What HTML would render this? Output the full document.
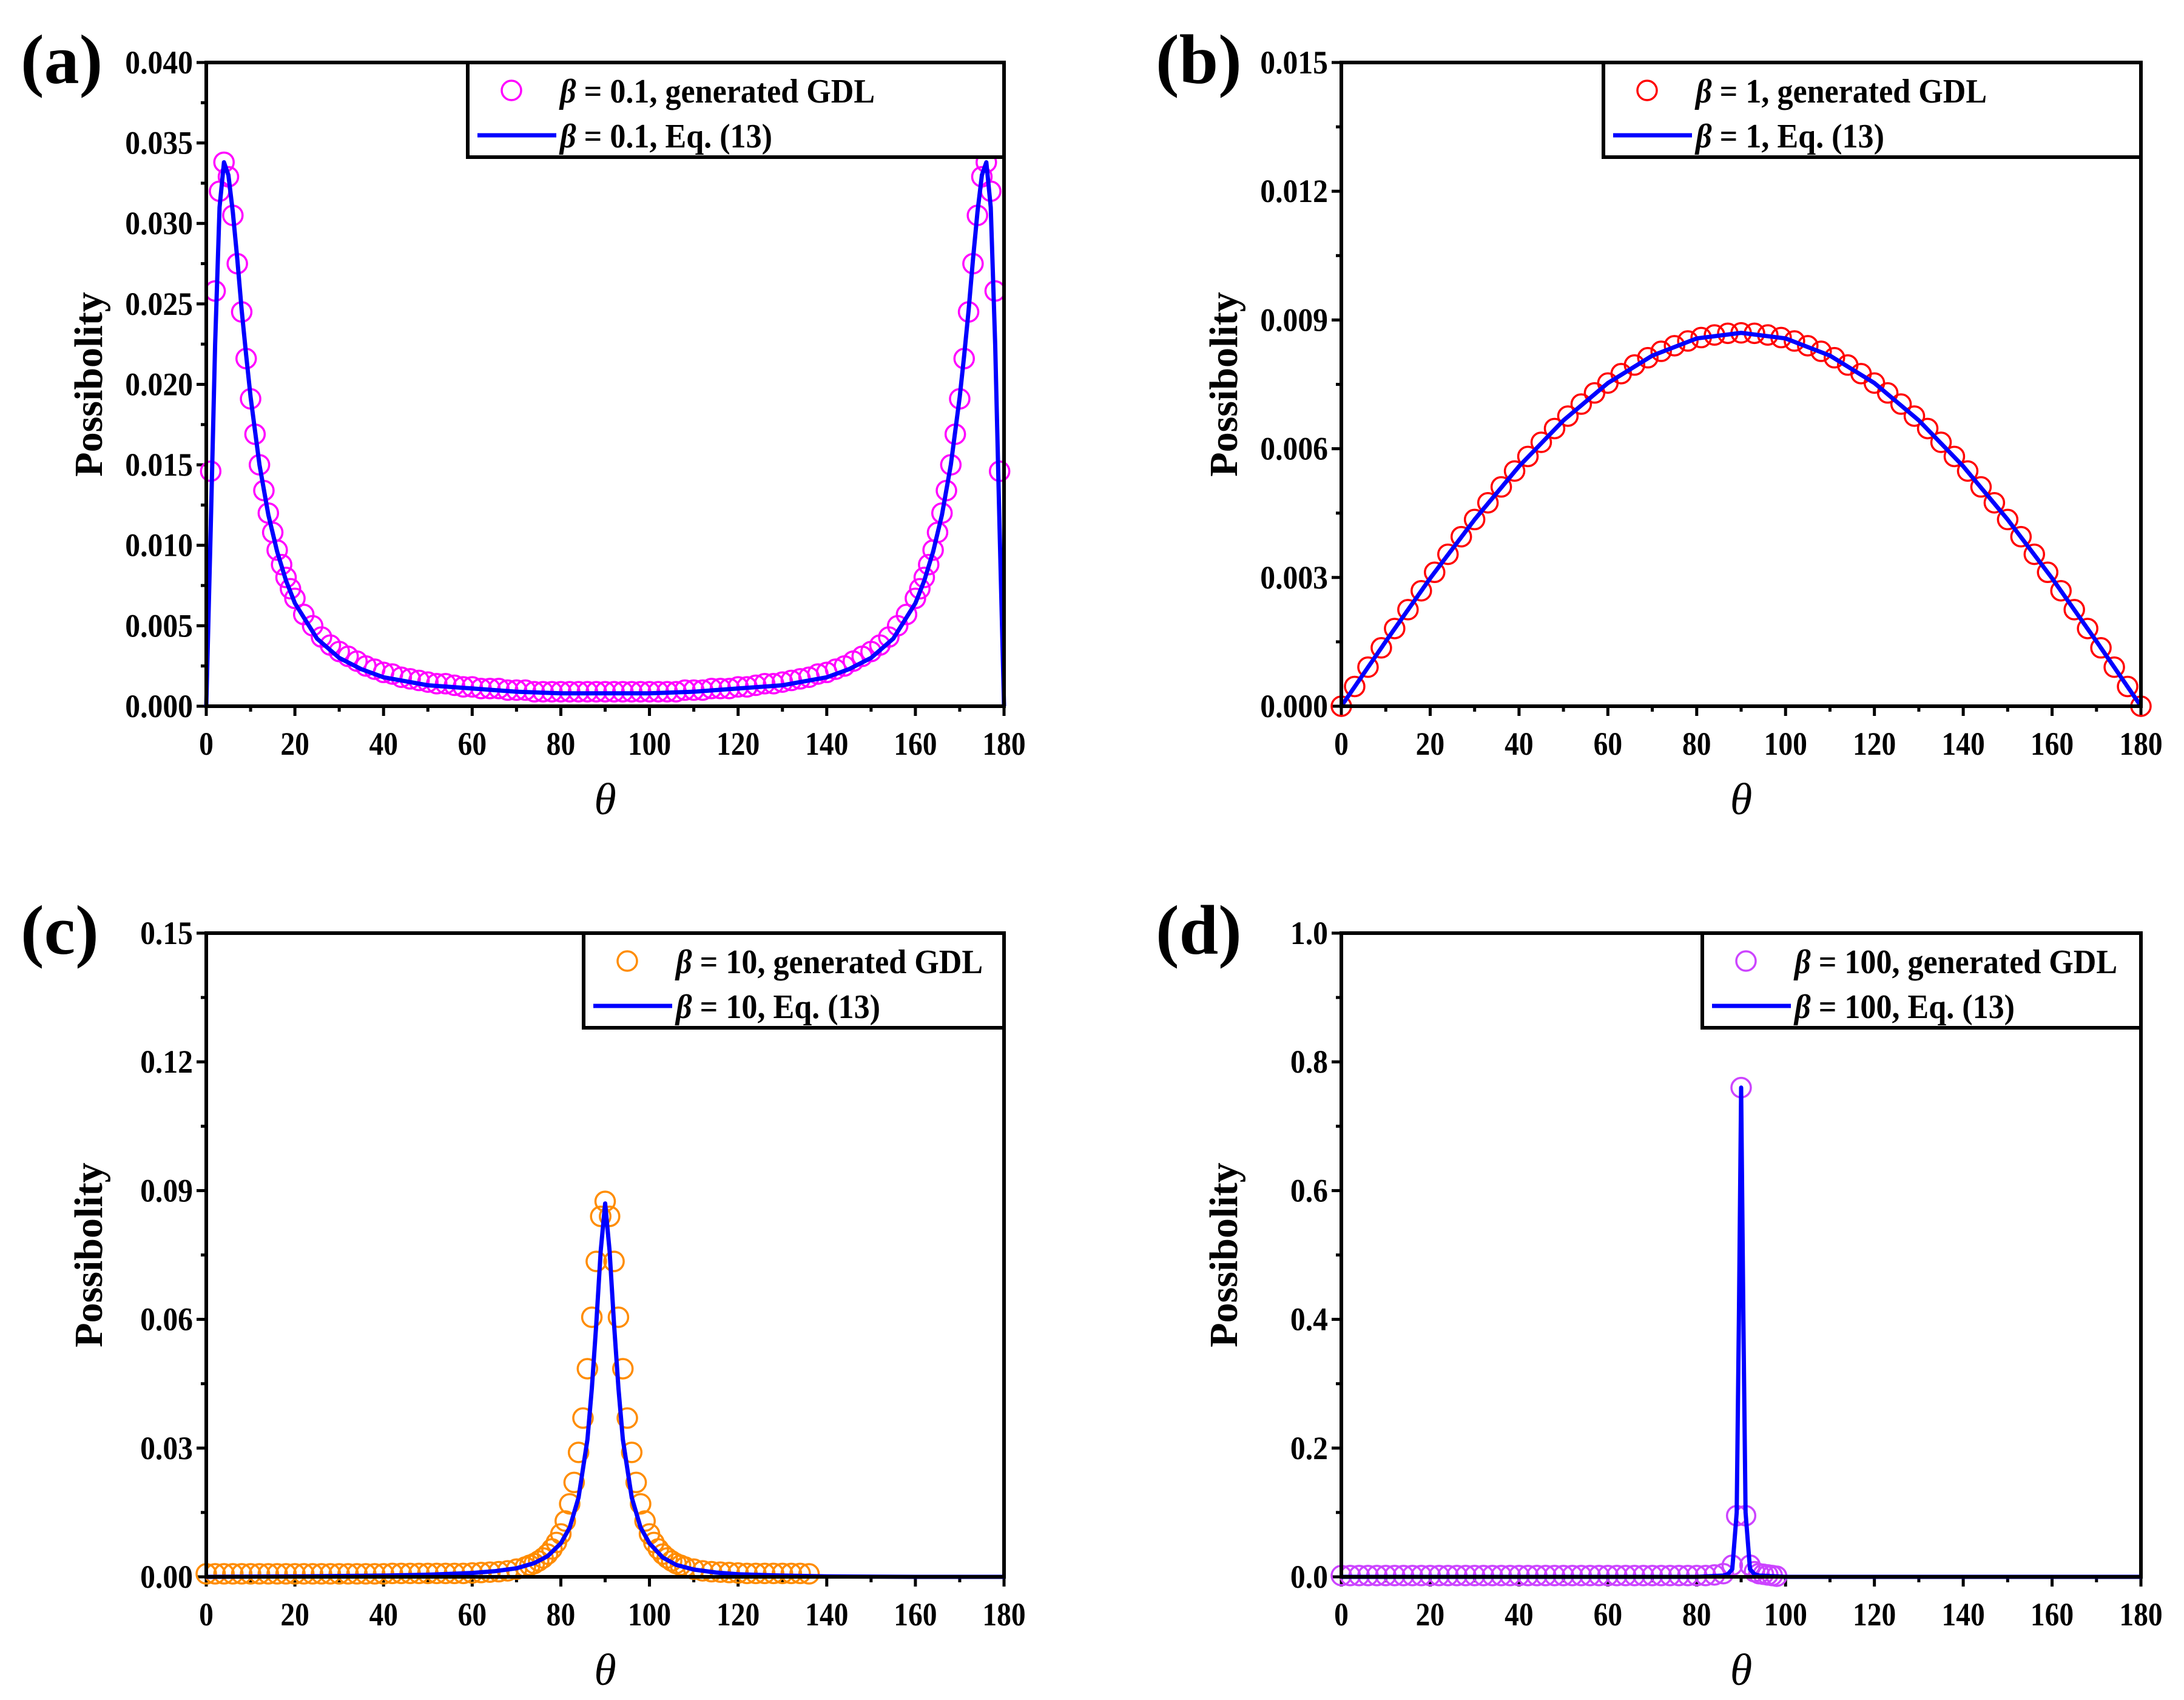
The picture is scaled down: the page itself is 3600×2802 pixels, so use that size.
<!DOCTYPE html>
<html><head><meta charset="utf-8"><style>
html,body{margin:0;padding:0;background:#fff;}
svg{display:block;font-family:"Liberation Serif",serif;font-weight:bold;}
</style></head><body>
<svg id="fig" width="3600" height="2802" viewBox="0 0 3600 2802" xmlns="http://www.w3.org/2000/svg"></svg>
<script>
// ---------- data ----------
const xTicks = [0,20,40,60,80,100,120,140,160,180];
const yTicksA = [0,0.005,0.010,0.015,0.020,0.025,0.030,0.035,0.040];
const yTicksB = [0,0.003,0.006,0.009,0.012,0.015];
const yTicksC = [0,0.03,0.06,0.09,0.12,0.15];
const yTicksD = [0,0.2,0.4,0.6,0.8,1.0];

const thetaA = [1,2,3,4,5,6,7,8,9,10,11,12,13,14,15,16,17,18,19,20,
 22,24,26,28,30,32,34,36,38,40,42,44,46,48,50,52,54,56,58,60,62,64,66,68,70,72,74,76,78,80,82,84,86,88,90,
 92,94,96,98,100,102,104,106,108,110,112,114,116,118,120,122,124,126,128,130,132,134,136,138,140,142,144,146,148,150,152,154,156,158,
 160,161,162,163,164,165,166,167,168,169,170,171,172,173,174,175,176,177,178,179];
const valuesA = [.0146,.0258,.0320,.0338,.0329,.0305,.0275,.0245,.0216,.0191,.0169,.0150,.0134,.0120,.0108,.0097,.0088,.0080,.0073,.0067,
 .0057,.0050,.0043,.0038,.0034,.0031,.0028,.0025,.0023,.0021,.0020,.0018,.0017,.0016,.0015,.0014,.0014,.0013,.0012,.0012,.0011,.0011,.0011,.0010,.0010,.0010,.0009,.0009,.0009,.0009,.0009,.0009,.0009,.0009,.0009,
 .0009,.0009,.0009,.0009,.0009,.0009,.0009,.0009,.0010,.0010,.0010,.0011,.0011,.0011,.0012,.0012,.0013,.0014,.0014,.0015,.0016,.0017,.0018,.0020,.0021,.0023,.0025,.0028,.0031,.0034,.0038,.0043,.0050,.0057,
 .0067,.0073,.0080,.0088,.0097,.0108,.0120,.0134,.0150,.0169,.0191,.0216,.0245,.0275,.0305,.0329,.0338,.0320,.0258,.0146];
const lineThetaA = [0,1,2,3,4,5,6,7,8,9,10,12,14,16,18,20,25,30,35,40,50,60,70,80,90,100,110,120,130,140,145,150,155,160,162,164,166,168,170,171,172,173,174,175,176,177,178,179,180];
const lineValuesA = [0,.0110,.0225,.0310,.0338,.0330,.0307,.0278,.0246,.0218,.0192,.0150,.0119,.0096,.0078,.0064,.0042,.0030,.0023,.0018,.0013,.0011,.0009,.0008,.0008,.0008,.0009,.0011,.0013,.0018,.0023,.0030,.0042,.0064,.0078,.0096,.0119,.0150,.0192,.0218,.0246,.0278,.0307,.0330,.0338,.0310,.0225,.0110,0];

const thetaB = [0,3,6,9,12,15,18,21,24,27,30,33,36,39,42,45,48,51,54,57,60,63,66,69,72,75,78,81,84,87,90,93,96,99,102,105,108,111,114,117,120,123,126,129,132,135,138,141,144,147,150,153,156,159,162,165,168,171,174,177,180];
const valuesB = [0,.00046,.00091,.00136,.00181,.00225,.00269,.00312,.00354,.00395,.00435,.00474,.00511,.00548,.00582,.00615,.00647,.00676,.00704,.00730,.00753,.00775,.00795,.00812,.00827,.00840,.00851,.00859,.00865,.00869,.00870,
 .00869,.00865,.00859,.00851,.00840,.00827,.00812,.00795,.00775,.00753,.00730,.00704,.00676,.00647,.00615,.00582,.00548,.00511,.00474,.00435,.00395,.00354,.00312,.00269,.00225,.00181,.00136,.00091,.00046,0];
const lineThetaB = [0,10,20,30,40,50,60,70,80,90,100,110,120,130,140,150,160,170,180];
const lineValuesB = [0,.00151,.00298,.00435,.00559,.00666,.00753,.00817,.00857,.00870,.00857,.00817,.00753,.00666,.00559,.00435,.00298,.00151,0];

const thetaC = [0,2,4,6,8,10,12,14,16,18,20,22,24,26,28,30,32,34,36,38,40,42,44,46,48,50,52,54,56,58,60,62,64,66,68,70,72,73,74,75,76,77,78,79,80,81,82,83,84,85,86,87,88,89,90,91,92,93,94,95,96,97,98,99,100,101,102,103,104,105,106,107,108,110,112,114,116,118,120,122,124,126,128,130,132,134,136];
const valuesC = [.0007,.0007,.0007,.0007,.0007,.0007,.0007,.0007,.0007,.0007,.0007,.0007,.0007,.0007,.0007,.0007,.0007,.0007,.0007,.0007,.0007,.0008,.0008,.0008,.0008,.0008,.0008,.0008,.0008,.0008,.0009,.0010,.0011,.0012,.0014,.0018,.0023,.0027,.0031,.0037,.0044,.0053,.0065,.0080,.0100,.0130,.0170,.0220,.0290,.0370,.0485,.0605,.0735,.0840,.0875,
 .0840,.0735,.0605,.0485,.0370,.0290,.0220,.0170,.0130,.0100,.0080,.0065,.0053,.0044,.0037,.0031,.0027,.0023,.0018,.0014,.0012,.0011,.0010,.0009,.0008,.0008,.0008,.0008,.0008,.0008,.0008,.0007];
const lineThetaC = [0,20,40,50,60,65,70,74,77,80,82,84,86,87,88,89,90,91,92,93,94,96,98,100,103,106,110,115,120,130,140,160,180];
const lineValuesC = [0,.0001,.0003,.0005,.0009,.0013,.0020,.0032,.0048,.0078,.0115,.0185,.0320,.0440,.0590,.0760,.0870,.0760,.0590,.0440,.0320,.0185,.0115,.0078,.0045,.0028,.0017,.0010,.0006,.0003,.0001,0,0];

const thetaD = [0,2,4,6,8,10,12,14,16,18,20,22,24,26,28,30,32,34,36,38,40,42,44,46,48,50,52,54,56,58,60,62,64,66,68,70,72,74,76,78,80,82,84,86,88,89,90,91,92,93,94,95,96,97,98];
const valuesD = [.002,.002,.002,.002,.002,.002,.002,.002,.002,.002,.002,.002,.002,.002,.002,.002,.002,.002,.002,.002,.002,.002,.002,.002,.002,.002,.002,.002,.002,.002,.002,.002,.002,.002,.002,.002,.002,.002,.002,.002,.002,.002,.003,.005,.018,.095,.760,.095,.018,.008,.005,.004,.003,.002,.001];
const lineThetaD = [0,40,80,86,87,88,89,89.5,90,90.5,91,92,93,94,100,140,180];
const lineValuesD = [0,0,0,.002,.004,.012,.10,.40,.76,.40,.10,.012,.004,.002,0,0,0];

// ---------- drawing ----------
const NS = "http://www.w3.org/2000/svg";
const svg = document.getElementById('fig');
function mk(tag, attrs, parent){ const e=document.createElementNS(NS,tag); for(const k in attrs) e.setAttribute(k,attrs[k]); (parent||svg).appendChild(e); return e; }

function panel(cfg){
  const g = mk('g',{});
  
  
  const L=cfg.x0, R=cfg.x1, T=cfg.y0, B=cfg.y1;
  const ymax = cfg.yTicks[cfg.yTicks.length-1];
  const sx = v => L + (v/180)*(R-L);
  const sy = v => B - (v/ymax)*(B-T);
  const tg = mk('g',{stroke:'#000','stroke-width':5},g);
  
  
  for(let i=0;i<xTicks.length;i++){
    const x=sx(xTicks[i]);
    mk('line',{x1:x,x2:x,y1:B,y2:B+16},tg);
    if(i<xTicks.length-1){ const xm=sx((xTicks[i]+xTicks[i+1])/2); mk('line',{x1:xm,x2:xm,y1:B,y2:B+9},tg); }
    const t=mk('text',{x:x,y:B+80,'text-anchor':'middle','font-size':54,transform:'translate('+x+','+(B+80)+') scale(0.88,1) translate('+(-x)+','+(-(B+80))+')'},g);
    
    
    t.textContent=xTicks[i];
  }
  for(let i=0;i<cfg.yTicks.length;i++){
    const y=sy(cfg.yTicks[i]);
    mk('line',{x1:L-16,x2:L,y1:y,y2:y},tg);
    if(i<cfg.yTicks.length-1){ const ym=sy((cfg.yTicks[i]+cfg.yTicks[i+1])/2); mk('line',{x1:L-9,x2:L,y1:ym,y2:ym},tg); }
    const t=mk('text',{x:L-22,y:y+18,'text-anchor':'end','font-size':54,transform:'translate('+(L-22)+',0) scale(0.92,1) translate('+(-(L-22))+',0)'},g);
    
    
    t.textContent=cfg.yTicks[i].toFixed(cfg.dec);
  }
  const mg = mk('g',{fill:'none',stroke:cfg.color,'stroke-width':3.5},g);
  
  
  for(let i=0;i<cfg.mx.length;i++){
    const c=mk('circle',{cx:sx(cfg.mx[i]),cy:sy(cfg.my[i]),r:16},mg);
    
    
  }
  let d='';
  for(let i=0;i<cfg.lx.length;i++) d+=(i?'L':'M')+sx(cfg.lx[i]).toFixed(1)+','+sy(cfg.ly[i]).toFixed(1);
  const p=mk('path',{d:d,fill:'none',stroke:'#0000ff','stroke-width':7,'stroke-linejoin':'round'},g);
  
  
  const fr=mk('rect',{x:L,y:T,width:R-L,height:B-T,fill:'none',stroke:'#000','stroke-width':6},g);
  
  
  const lg=mk('g',{},g);
  
  
  mk('rect',{x:cfg.lgx,y:T,width:R-cfg.lgx,height:156,fill:'#fff',stroke:'#000','stroke-width':6},lg);
  mk('circle',{cx:cfg.lgx+72,cy:T+46,r:16,fill:'none',stroke:cfg.color,'stroke-width':3.5},lg);
  mk('line',{x1:cfg.lgx+16,x2:cfg.lgx+146,y1:T+120,y2:T+120,stroke:'#0000ff','stroke-width':7},lg);
  const tx=cfg.lgx+152;
  const tf='translate('+tx+',0) scale(0.93,1) translate('+(-tx)+',0)';
  const t1=mk('text',{x:tx,y:T+66,'font-size':56,transform:tf},lg);
  
  
  t1.innerHTML='<tspan font-style="italic">β</tspan> = '+cfg.beta+', generated GDL';
  const t2=mk('text',{x:tx,y:T+140,'font-size':56,transform:tf},lg);
  
  
  t2.innerHTML='<tspan font-style="italic">β</tspan> = '+cfg.beta+', Eq. (13)';
  const yt=mk('text',{x:0,y:0,'font-size':66,'text-anchor':'middle',transform:'translate('+(L-172)+','+((T+B)/2)+') rotate(-90)'},g);
  
  
  yt.textContent='Possibolity';
  const xt=mk('text',{x:(L+R)/2,y:B+178,'font-size':74,'text-anchor':'middle','font-style':'italic','font-weight':'normal'},g);
  
  
  xt.textContent='θ';
  const pl=mk('text',{x:L-306,y:T+34,'font-size':116},g);
  
  
  pl.textContent='('+cfg.id+')';
}

panel({id:'a',x0:340,x1:1655,y0:103,y1:1164,yTicks:yTicksA,dec:3,color:'#ff00ff',mx:thetaA,my:valuesA,lx:lineThetaA,ly:lineValuesA,lgx:771,beta:'0.1'});
panel({id:'b',x0:2211,x1:3529,y0:103,y1:1164,yTicks:yTicksB,dec:3,color:'#ff0000',mx:thetaB,my:valuesB,lx:lineThetaB,ly:lineValuesB,lgx:2643,beta:'1'});
panel({id:'c',x0:340,x1:1655,y0:1538,y1:2599,yTicks:yTicksC,dec:2,color:'#ff8c00',mx:thetaC,my:valuesC,lx:lineThetaC,ly:lineValuesC,lgx:962,beta:'10'});
panel({id:'d',x0:2211,x1:3529,y0:1538,y1:2599,yTicks:yTicksD,dec:1,color:'#cc44ff',mx:thetaD,my:valuesD,lx:lineThetaD,ly:lineValuesD,lgx:2806,beta:'100'});
</script>
</body></html>
